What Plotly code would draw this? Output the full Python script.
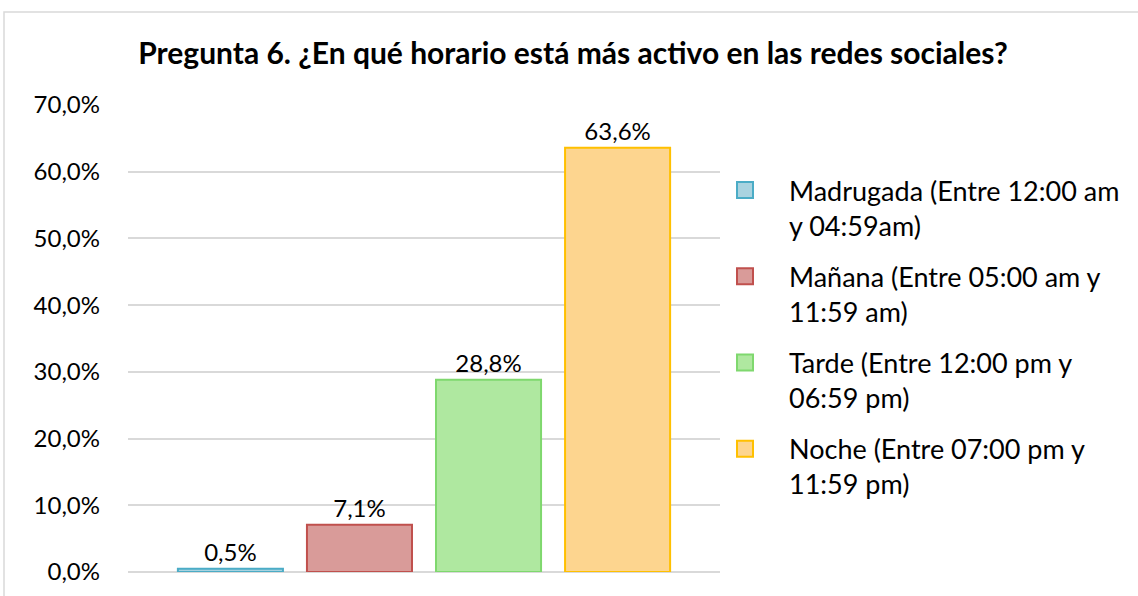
import plotly.graph_objects as go

categories = ["Madrugada (Entre 12:00 am<br>y 04:59am)",
              "Mañana (Entre 05:00 am y<br>11:59 am)",
              "Tarde (Entre 12:00 pm y<br>06:59 pm)",
              "Noche (Entre 07:00 pm y<br>11:59 pm)"]
values = [0.005, 0.071, 0.288, 0.636]
fill_colors = ["#a9d3e0", "#d99b99", "#afe8a0", "#fdd58f"]
line_colors = ["#4bacc6", "#c0504d", "#7fd86e", "#ffc000"]
title_text = "Pregunta 6. ¿En qué horario está más activo en las redes sociales?"

FONT = "Lato"
fig = go.Figure()
for name, v, fc, lc in zip(categories, values, fill_colors, line_colors):
    fig.add_trace(go.Bar(
        x=[""], y=[v], name=name, legendgroup=name, showlegend=False,
        marker=dict(color=fc, line=dict(color=lc, width=2)),
        texttemplate="%{y:.1%}", textposition="outside",
        textfont=dict(size=24, color="#000000", family=FONT),
        cliponaxis=False,
    ))
for name, fc, lc in zip(categories, fill_colors, line_colors):
    fig.add_trace(go.Scatter(
        x=[None], y=[None], name=name, legendgroup=name, mode="markers",
        marker=dict(symbol="square", size=16, color=fc, line=dict(color=lc, width=2)),
    ))

L, R, T, B = 128, 1138 - 720, 105, 596 - 572
W, H = 1138 - L - R, 596 - T - B

fig.update_layout(
    width=1138, height=596,
    margin=dict(l=L, r=R, t=T, b=B),
    separators=",.",
    barmode="group", bargap=0.128, bargroupgap=0.186,
    paper_bgcolor="white", plot_bgcolor="white",
    font=dict(family=FONT, size=24, color="#000000"),
    title=dict(text="<b>" + title_text + "</b>", x=(573 - L) / W, xref="paper",
               xanchor="center", y=1 - 53 / 596, yanchor="middle",
               font=dict(family=FONT, size=30, color="#000000")),
    xaxis=dict(showticklabels=False, showgrid=False, zeroline=False, showline=False,
               type="category"),
    yaxis=dict(range=[0, 0.7], dtick=0.1, tickformat=".1%", showgrid=True,
               gridcolor="#d9d9d9", gridwidth=2, zeroline=True, zerolinecolor="#d9d9d9",
               zerolinewidth=2, showline=False, ticks="", ticklen=0,
               ticklabelstandoff=27,
               tickfont=dict(family=FONT, size=24, color="#000000")),
    legend=dict(x=(701 - L) / W, xanchor="left", y=(572 - 166) / H, yanchor="top",
                font=dict(family=FONT, size=27, color="#000000"),
                tracegroupgap=13, itemwidth=78, bgcolor="rgba(0,0,0,0)",
                traceorder="grouped", itemsizing="trace", valign="top"),
    shapes=[dict(type="rect", xref="paper", yref="paper",
                 x0=(4 - L) / W, x1=(1145 - L) / W,
                 y0=(572 - 605) / H, y1=(572 - 12) / H,
                 line=dict(color="#d9d9d9", width=1.5), fillcolor="rgba(0,0,0,0)",
                 layer="below")],
)

fig.write_html("out.html", config={"displayModeBar": False},
               post_script="document.body.style.margin='0';")
